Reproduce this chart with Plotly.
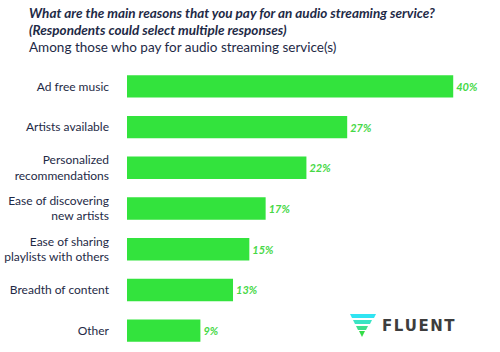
import plotly.graph_objects as go

categories = ["Ad free music", "Artists available", "Personalized<br>recommendations",
              "Ease of discovering<br>new artists", "Ease of sharing<br>playlists with others",
              "Breadth of content", "Other"]
values = [40, 27, 22, 17, 15, 13, 9]

title_line1 = "What are the main reasons that you pay for an audio streaming service?"
title_line2 = "(Respondents could select multiple responses)"
subtitle = "Among those who pay for audio streaming service(s)"

W, H = 500, 352
ML, MR, MT, MB = 127, 6, 66, 1
PW, PH = W - ML - MR, H - MT - MB

def px(x):
    return (x - ML) / PW

def py(y):
    return (H - MB - y) / PH

FONT = "Lato"
NAVY = "#1e2a46"

fig = go.Figure()
fig.add_trace(go.Bar(
    x=values, y=categories, orientation="h",
    marker=dict(color="#33e33d", line=dict(width=0)),
    width=0.55,
    text=[f"{v}%" for v in values], textposition="outside",
    textfont=dict(family=FONT, size=11, color="#46d846", style="italic", weight="bold"),
    cliponaxis=False,
))

fig.update_layout(
    width=W, height=H,
    margin=dict(l=ML, r=MR, t=MT, b=MB),
    paper_bgcolor="white", plot_bgcolor="white",
    showlegend=False,
    bargap=0.45,
    xaxis=dict(range=[0, 45], visible=False, fixedrange=True),
    yaxis=dict(autorange="reversed", showgrid=False, zeroline=False, showline=False,
               ticks="", ticklabelstandoff=17,
               tickfont=dict(family=FONT, size=12, color=NAVY)),
)

anns = [
    (title_line1, 13, "bold", "italic"),
    (title_line2, 30, "bold", "italic"),
    (subtitle, 47, "normal", "normal"),
]
for txt, y, w, st in anns:
    fig.add_annotation(xref="paper", yref="paper", x=px(27), y=py(y),
                       xanchor="left", yanchor="middle", showarrow=False, text=txt,
                       font=dict(family=FONT, size=13.5, color=NAVY, weight=w, style=st))

# FLUENT logo
stripes = [
    ([(350, 314), (376, 314), (374, 318), (352, 318)], "#30e4f2"),
    ([(353, 320), (372, 320), (370, 324), (355, 324)], "#3ae4c4"),
    ([(356, 326), (368, 326), (366, 330), (358, 330)], "#3ede8c"),
    ([(359, 331), (365, 331), (362, 337)], "#35dc48"),
]
for pts, col in stripes:
    path = "M " + " L ".join(f"{px(a):.5f},{py(b):.5f}" for a, b in pts) + " Z"
    fig.add_shape(type="path", xref="paper", yref="paper", path=path,
                  fillcolor=col, line=dict(width=0))
fig.add_annotation(xref="paper", yref="paper", x=px(380), y=py(326),
                   xanchor="left", yanchor="middle", showarrow=False,
                   text="\u200a".join("FLUENT"),
                   font=dict(family="DejaVu Sans", size=15, color="#3d3d3d", weight="bold"))

fig.write_html("out.html")
